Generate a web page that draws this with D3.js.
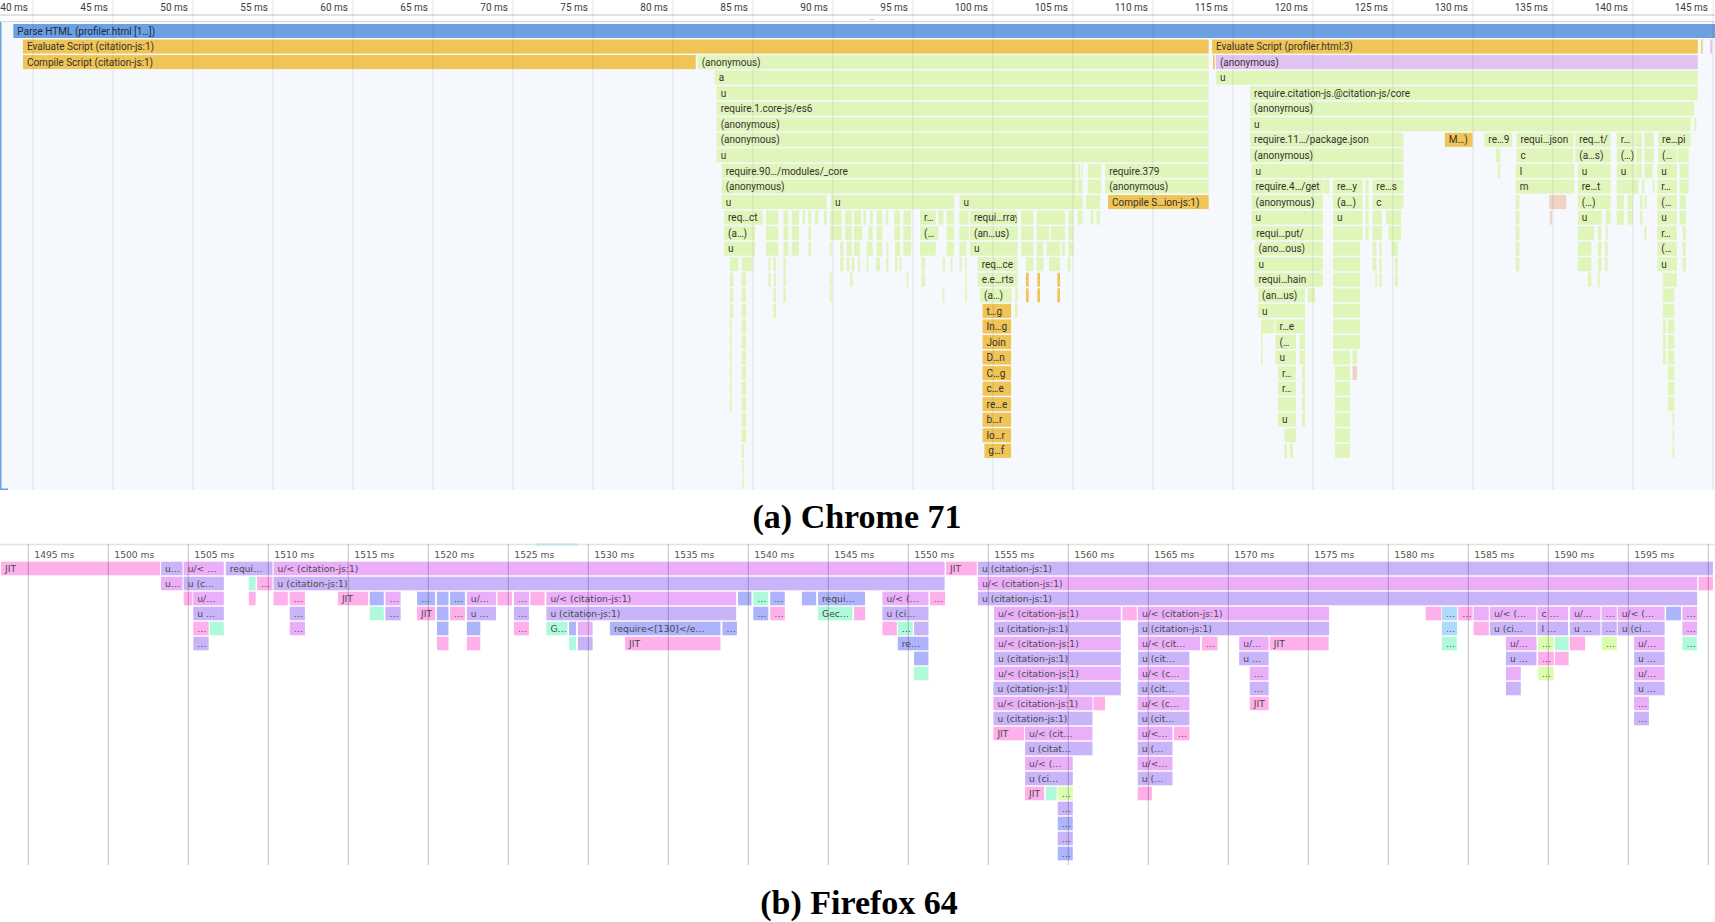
<!DOCTYPE html>
<html><head><meta charset="utf-8">
<script src="https://cdn.jsdelivr.net/npm/d3@7"></script>
<style>html,body{margin:0;padding:0;background:#fff;}svg{display:block;}</style>
</head><body>
<svg id="c" width="1715" height="922"></svg>
<script>
// ---------- DATA ----------
const chromeTickValues = [40,45,50,55,60,65,70,75,80,85,90,95,100,105,110,115,120,125,130,135,140,145];
const firefoxTickValues = [1495,1500,1505,1510,1515,1520,1525,1530,1535,1540,1545,1550,1555,1560,1565,1570,1575,1580,1585,1590,1595,1600];
const firefoxLabelledTicks = [1495,1500,1505,1510,1515,1520,1525,1530,1535,1540,1545,1550,1555,1560,1565,1570,1575,1580,1585,1590,1595];

// [depth, start ms, end ms, label, category]
const chromeTop = [
 [0,38.77,147,"Parse HTML (profiler.html [1…])","P"],
 [1,39.37,113.48,"Evaluate Script (citation-js:1)","O"],
 [1,113.69,144.05,"Evaluate Script (profiler.html:3)","O"],
 [1,144.27,144.35,"","O"],[1,144.83,144.95,"","V"],
 [2,39.37,81.42,"Compile Script (citation-js:1)","O"],
 [2,81.54,113.48,"(anonymous)","G"],
 [2,113.75,113.85,"","O"],
 [2,113.93,144.05,"(anonymous)","V"],
 [3,82.61,113.48,"a","G"],[3,113.93,144.05,"u","G"],
 [4,82.73,113.48,"u","G"],[4,116.07,144.05,"require.citation-js.@citation-js/core","G"],
 [5,82.73,113.48,"require.1.core-js/es6","G"],[5,116.07,143.82,"(anonymous)","G"],
 [6,82.73,113.48,"(anonymous)","G"],[6,116.07,143.60,"u","G"],[6,143.82,143.95,"","G"],
 [7,82.73,113.48,"(anonymous)","G"],[7,116.07,125.65,"require.11…/package.json","G"],
 [7,128.24,129.97,"M…)","O"],[7,130.71,132.45,"re…9","G"],[7,132.72,136.28,"requi…json","G"],
 [7,136.39,138.60,"req…t/","G"],[7,138.98,140.11,"r…","G"],[7,140.16,140.56,"","G"],
 [7,140.71,141.30,"","G"],[7,141.57,143.60,"re…pi","G"],
 [8,82.73,113.48,"u","G"],[8,116.07,125.65,"(anonymous)","G"],[8,131.43,131.70,"","G"],
 [8,132.72,136.28,"c","G"],[8,136.39,138.60,"(a…s)","G"],[8,138.98,140.11,"(…)","G"],
 [8,140.2,140.56,"","G"],[8,140.71,141.3,"","G"],[8,141.57,142.74,"(…","G"],[8,142.8,143.48,"","G"]
];

const chromeLeft = [
 [9,83.04,105.22,"require.90…/modules/_core"],[9,105.3,105.45],[9,105.52,105.6],[9,105.93,106.77],
 [9,107.01,113.48,"require.379"],
 [10,83.04,105.22,"(anonymous)"],[10,105.3,105.6],[10,105.93,106.77],[10,107.01,113.48,"(anonymous)"],
 [11,83.04,89.60,"u"],[11,89.87,97.58,"u"],[11,97.90,105.60,"u"],[11,105.81,106.69],
 [11,107.19,113.48,"Compile S…ion-js:1)","O"],
 [12,83.19,85.60,"req…ct"],[12,85.81,86.58],[12,86.90,87.21],[12,87.42,87.87],[12,88.10,88.25],[12,88.46,88.63],
 [12,88.88,89.08],[12,89.44,89.60],[12,89.81,90.54],[12,90.75,91.17],[12,91.31,91.75],[12,91.90,92.06],
 [12,92.31,92.48],[12,92.73,93.08],[12,93.29,93.46],[12,93.83,94.19],[12,94.40,94.88],[12,95.44,96.42,"r…"],
 [12,96.58,96.90],[12,97.10,97.56],[12,97.90,98.48],[12,98.56,101.54,"requi…rray"],[12,101.75,102.52],
 [12,102.73,104.50],[12,104.71,105.02],[12,105.29,105.60],[12,106.10,106.27],[12,106.48,106.69],
 [13,83.19,85.13,"(a…)"],[13,85.81,86.58],[13,86.90,87.21],[13,87.42,87.87],[13,88.46,88.63],[13,89.81,90.54],
 [13,90.75,91.17],[13,91.31,91.83],[13,92.21,92.48],[13,92.73,93.08],[13,93.83,94.19],[13,94.40,94.88],
 [13,95.44,96.58,"(…"],[13,97.10,97.56],[13,97.90,98.48],[13,98.56,101.54,"(an…us)"],[13,101.75,102.52],
 [13,102.73,103.50],[13,103.60,104.50],[13,104.71,105.02],
 [14,83.19,85.13,"u"],[14,85.81,86.58],[14,86.90,87.21],[14,87.42,87.87],[14,88.46,88.63],[14,89.81,89.92],
 [14,90.44,90.65],[14,90.85,91.17],[14,91.31,91.69],[14,92.10,92.48],[14,92.73,93.08],[14,93.35,93.46],
 [14,93.87,94.19],[14,94.40,94.88],[14,95.44,96.42],[14,97.10,97.56],[14,97.90,98.35],[14,98.56,101.54,"u"],
 [14,101.75,102.52],[14,102.73,103.15],[14,103.35,104.19],[14,104.29,104.50],[14,104.71,105.02],
 [15,83.56,84.08],[15,84.29,84.98],[15,85.96,86.10],[15,86.27,86.44],[15,86.90,87.06],[15,90.44,90.65],
 [15,90.85,91.02],[15,91.17,91.33],[15,91.58,91.69],[15,92.10,92.21],[15,92.69,92.94],[15,93.31,93.46],
 [15,93.87,94.02],[15,94.15,94.29],[15,95.54,95.75],[15,96.85,97.00],[15,97.35,97.48],[15,97.90,98.04],
 [15,98.25,98.35],[15,99.04,101.54,"req…ce"],[15,102.06,102.52],[15,102.73,103.15],[15,103.50,104.19],[15,104.67,104.85],
 [16,83.56,83.77],[16,84.29,84.56],[16,85.96,86.10],[16,86.31,86.44],[16,86.90,87.06],[16,89.81,89.92],
 [16,91.06,91.23],[16,94.60,94.71],[16,95.54,95.75],[16,98.25,98.35],[16,99.04,101.54,"e.e…rts"],
 [16,102.06,102.23,"","O"],[16,102.77,102.94,"","O"],[16,104.02,104.19,"","O"],
 [17,83.56,83.77],[17,84.29,84.56],[17,86.27,86.44],[17,86.90,87.06],[17,89.81,89.92],[17,96.85,96.96],
 [17,98.25,98.35],[17,99.19,101.17,"(a…)"],[17,101.38,101.54],
 [17,102.06,102.23,"","O"],[17,102.77,102.94,"","O"],[17,104.02,104.19,"","O"],
 [18,83.56,83.77],[18,84.29,84.56],[18,86.27,86.44],[18,99.35,101.13,"t…g","O"],[18,101.38,101.54],
 [19,83.56,83.67],[19,84.29,84.56],[19,99.35,101.13,"In…g","O"],
 [20,83.56,83.67],[20,84.29,84.56],[20,99.35,101.13,"Join","O"],
 [21,83.56,83.67],[21,84.29,84.56],[21,99.35,101.13,"D…n","O"],
 [22,83.56,83.67],[22,84.29,84.56],[22,99.35,101.13,"C…g","O"],
 [23,83.56,83.67],[23,84.29,84.56],[23,99.35,101.13,"c…e","O"],
 [24,83.56,83.67],[24,84.29,84.56],[24,99.35,101.13,"re…e","O"],
 [25,84.29,84.56],[25,99.35,101.13,"b…r","O"],
 [26,84.29,84.56],[26,99.35,101.13,"lo…r","O"],
 [27,84.29,84.44],[27,99.46,101.13,"g…f","O"],
 [28,84.32,84.42],[29,84.32,84.42]
];

const chromeRight = [
 [9,116.16,125.65,"u"],[9,131.55,131.70],[9,132.67,136.34,"l"],[9,136.55,138.60,"u"],[9,138.98,140.11,"u"],
 [9,140.16,140.56],[9,140.71,141.23],[9,141.52,142.74,"u"],[9,142.92,143.48],
 [10,116.16,120.62,"require.4…/get"],[10,120.66,121.03],[10,121.25,123.10,"re…y"],[10,123.28,123.48],
 [10,123.71,125.65,"re…s"],[10,132.67,136.34,"m"],[10,136.55,138.60,"re…t"],[10,138.98,140.33],
 [10,140.56,140.71],[10,141.23,141.34],[10,141.52,142.74,"r…"],[10,142.92,143.48],
 [11,116.16,120.62,"(anonymous)"],[11,121.25,123.10,"(a…)"],[11,123.28,123.48],[11,123.71,125.65,"c"],
 [11,132.67,132.90],[11,134.77,135.83,"","S"],[11,136.55,138.60,"(…)"],[11,138.98,139.43],[11,139.66,140.00],
 [11,140.44,140.60],[11,140.71,140.85],[11,141.52,142.74,"(…"],[11,142.92,143.30],
 [12,116.16,120.62,"u"],[12,121.25,123.10,"u"],[12,123.28,123.48],[12,123.71,124.30],[12,124.56,125.51],
 [12,132.67,132.90],[12,134.81,134.93,"","S"],[12,136.55,138.03,"u"],[12,138.30,138.60],[12,138.98,139.43],
 [12,139.66,140.00],[12,140.44,140.60],[12,141.52,142.74,"u"],[12,142.92,143.30],
 [13,116.20,120.62,"requi…put/"],[13,121.25,123.10],[13,123.28,123.48],[13,123.71,124.30],[13,124.72,125.51],
 [13,132.67,132.90],[13,136.55,137.58],[13,137.81,138.03],[13,138.30,138.42],[13,140.71,140.85],
 [13,141.52,142.74,"r…"],[13,143.10,143.30],
 [14,116.34,120.62,"(ano…ous)"],[14,121.25,122.94],[14,123.71,123.96],[14,124.14,124.30],[14,124.90,125.31],
 [14,132.67,132.90],[14,136.55,137.40],[14,137.81,138.03],[14,138.24,138.42],[14,141.52,142.74,"(…"],[14,143.10,143.30],
 [15,116.34,120.62,"u"],[15,121.25,122.94],[15,123.71,123.96],[15,124.14,124.30],[15,125.13,125.31],
 [15,132.67,132.90],[15,136.55,137.40],[15,137.81,138.03],[15,138.24,138.42],[15,141.52,142.74,"u"],[15,143.10,143.30],
 [16,116.34,120.62,"requi…hain"],[16,121.25,122.94],[16,123.89,124.00],[16,124.14,124.30],[16,125.13,125.31],
 [16,137.18,137.40],[16,137.81,137.92],[16,141.86,142.74],
 [17,116.57,119.50,"(an…us)"],[17,119.68,120.13],[17,121.25,122.94],[17,141.86,142.58],
 [18,116.57,119.50,"u"],[18,121.25,122.94],[18,141.86,142.58],
 [19,116.75,117.58],[19,117.65,119.50,"r…e"],[19,121.25,122.94],[19,141.86,142.06],[19,142.18,142.58],
 [20,116.75,116.84],[20,117.65,118.93,"(…"],[20,119.16,119.50],[20,121.25,122.94],[20,141.86,142.06],[20,142.18,142.58],
 [21,116.75,116.84],[21,117.65,118.93,"u"],[21,119.16,119.50],[21,121.25,122.31],[21,122.47,122.76],
 [21,141.86,142.06],[21,142.18,142.58],
 [22,117.81,118.93,"r…"],[22,119.32,119.50],[22,121.37,122.31],[22,122.47,122.76,"","S"],[22,142.18,142.58],
 [23,117.81,118.93,"r…"],[23,119.32,119.50],[23,121.37,122.31],[23,142.18,142.58],
 [24,117.81,118.93],[24,119.32,119.50],[24,121.37,122.31],[24,142.18,142.58],
 [25,117.81,118.93,"u"],[25,119.32,119.50],[25,121.37,122.31],[25,142.47,142.58],
 [26,118.21,118.93],[26,121.37,122.31],[26,142.47,142.58],
 [27,118.21,118.37],[27,118.55,118.75],[27,121.37,122.31],[27,142.47,142.58]
];

const firefoxUpper = [
 [0,1493.30,1503.23,"JIT","J"],[0,1503.30,1504.64,"u…","L"],[0,1504.71,1507.22,"u/< …","M"],
 [0,1507.34,1510.26,"requi…","L"],[0,1510.33,1552.27,"u/< (citation-js:1)","M"],[0,1552.36,1554.28,"JIT","J"],
 [0,1554.35,1600.29,"u (citation-js:1)","L"],
 [1,1503.30,1504.64,"u…","M"],[1,1504.71,1507.22,"u (c…","L"],[1,1508.78,1509.21,"","T"],[1,1509.30,1510.26,"…","J"],
 [1,1510.33,1552.27,"u (citation-js:1)","L"],[1,1554.35,1599.30,"u/< (citation-js:1)","M"],[1,1599.39,1600.29,"","J"],
 [2,1504.71,1505.26,"","J"],[2,1505.31,1507.22,"u/…","M"],[2,1508.78,1509.21,"","J"],[2,1510.33,1511.22,"","J"],
 [2,1511.34,1512.29,"…","J"],[2,1514.35,1516.24,"JIT","J"],[2,1516.34,1517.22,"","B"],[2,1517.32,1518.27,"…","M"],
 [2,1519.30,1520.43,"…","B"],[2,1520.54,1521.26,"","B"],[2,1521.36,1522.29,"…","B"],[2,1522.41,1524.23,"u/…","M"],
 [2,1524.32,1525.23,"","J"],[2,1525.35,1526.29,"…","M"],[2,1526.38,1527.27,"","J"],
 [2,1527.38,1539.24,"u/< (citation-js:1)","M"],[2,1539.36,1540.20,"","B"],[2,1540.31,1541.25,"…","T"],
 [2,1541.37,1542.28,"…","B"],[2,1543.35,1544.24,"","B"],[2,1544.36,1547.30,"requi…","B"],
 [2,1548.38,1551.26,"u/< (…","M"],[2,1551.36,1552.30,"…","J"],[2,1554.35,1599.30,"u (citation-js:1)","L"],
 [3,1505.31,1507.22,"u …","L"],[3,1511.34,1512.29,"…","L"],[3,1516.34,1517.22,"","T"],[3,1517.32,1518.27,"…","L"],
 [3,1519.30,1520.43,"JIT","J"],[3,1520.54,1521.26,"","B"],[3,1521.36,1522.29,"…","J"],[3,1522.41,1524.23,"u …","L"],
 [3,1525.35,1526.29,"…","L"],[3,1527.38,1539.24,"u (citation-js:1)","L"],[3,1540.31,1541.25,"…","B"],
 [3,1541.37,1542.28,"…","J"],[3,1544.36,1546.51,"Gec…","T"],[3,1546.61,1547.30,"","J"],[3,1548.38,1551.26,"u (ci…","L"],
 [3,1555.36,1563.28,"u/< (citation-js:1)","M"],[3,1563.38,1564.28,"","J"],[3,1564.35,1576.30,"u/< (citation-js:1)","M"],
 [3,1582.34,1583.31,"","J"],[3,1583.35,1584.30,"…","C"],[3,1584.37,1585.27,"…","J"],[3,1585.33,1586.28,"","M"],
 [3,1586.35,1589.25,"u/< (…","M"],[3,1589.32,1591.24,"c …","M"],[3,1591.35,1593.26,"u/…","M"],[3,1593.33,1594.28,"…","M"],
 [3,1594.34,1597.27,"u/< (…","M"],[3,1597.36,1598.29,"","B"],[3,1598.38,1599.30,"…","M"],
 [4,1505.31,1506.27,"…","J"],[4,1506.34,1507.22,"","T"],[4,1511.34,1512.29,"…","M"],[4,1520.54,1521.26,"","B"],
 [4,1522.41,1523.25,"","B"],[4,1525.35,1526.29,"…","J"],[4,1527.38,1528.70,"G…","T"],[4,1528.80,1529.23,"","B"],
 [4,1529.35,1530.27,"","M"],[4,1531.35,1538.26,"require<[130]</e…","B"],[4,1538.38,1539.29,"…","B"],
 [4,1548.38,1549.28,"","J"],[4,1549.34,1550.28,"…","T"],[4,1550.36,1551.26,"","L"],
 [4,1555.36,1563.28,"u (citation-js:1)","L"],[4,1564.35,1576.30,"u (citation-js:1)","L"],[4,1583.35,1584.30,"…","C"],
 [4,1585.33,1586.28,"","J"],[4,1586.35,1589.25,"u (ci…","L"],[4,1589.32,1591.24,"l …","L"],[4,1591.35,1593.26,"u …","L"],
 [4,1593.33,1594.28,"…","L"],[4,1594.34,1597.27,"u (ci…","L"],[4,1598.38,1599.30,"…","M"]
];

const firefoxLower = [
 [5,1505.31,1506.27,"…","L"],[5,1520.54,1521.26,"","J"],[5,1522.41,1523.25,"","J"],[5,1528.80,1529.23,"","T"],
 [5,1529.35,1530.27,"","L"],[5,1532.30,1538.26,"JIT","J"],[5,1549.34,1551.26,"re…","B"],
 [5,1555.36,1563.28,"u/< (citation-js:1)","M"],[5,1564.36,1568.23,"u/< (cit…","M"],[5,1568.35,1569.33,"…","J"],
 [5,1570.68,1572.52,"u/…","M"],[5,1572.59,1576.27,"JIT","J"],[5,1583.35,1584.28,"…","T"],[5,1587.35,1589.26,"u/…","M"],
 [5,1589.36,1590.34,"…","Y"],[5,1590.41,1591.27,"","T"],[5,1591.34,1592.30,"","J"],[5,1593.35,1594.28,"…","Y"],
 [5,1595.36,1597.27,"u/…","M"],[5,1598.38,1599.28,"…","T"],
 [6,1550.36,1551.26,"","B"],[6,1555.36,1563.28,"u (citation-js:1)","L"],[6,1564.36,1567.57,"u (cit…","L"],
 [6,1570.68,1572.52,"u …","L"],[6,1587.35,1589.26,"u …","L"],[6,1589.36,1590.34,"…","J"],[6,1590.41,1591.27,"","J"],
 [6,1595.36,1597.27,"u …","L"],
 [7,1550.36,1551.26,"","T"],[7,1555.36,1563.28,"u/< (citation-js:1)","M"],[7,1564.36,1567.57,"u/< (c…","M"],
 [7,1571.34,1572.52,"…","M"],[7,1587.35,1588.28,"","M"],[7,1589.36,1590.34,"…","Y"],[7,1595.36,1597.27,"u/…","M"],
 [8,1555.32,1563.28,"u (citation-js:1)","L"],[8,1564.34,1567.57,"u (cit…","L"],[8,1571.34,1572.52,"…","L"],
 [8,1587.35,1588.28,"","L"],[8,1595.36,1597.27,"u …","L"],
 [9,1555.32,1561.51,"u/< (citation-js:1)","M"],[9,1561.57,1562.30,"","J"],[9,1564.34,1567.57,"u/< (c…","M"],
 [9,1571.34,1572.52,"JIT","J"],[9,1595.36,1596.29,"…","M"],
 [10,1555.32,1561.51,"u (citation-js:1)","L"],[10,1564.34,1567.57,"u (cit…","L"],[10,1595.36,1596.29,"…","L"],
 [11,1555.32,1557.24,"JIT","J"],[11,1557.30,1561.51,"u/< (cit…","M"],[11,1564.34,1566.51,"u/<…","M"],[11,1566.61,1567.57,"…","J"],
 [12,1557.30,1561.51,"u (citat…","L"],[12,1564.34,1566.51,"u (…","L"],
 [13,1557.30,1560.28,"u/< (…","M"],[13,1564.34,1566.51,"u/<…","M"],
 [14,1557.30,1560.28,"u (ci…","L"],[14,1564.34,1566.51,"u (…","L"],
 [15,1557.30,1558.49,"JIT","J"],[15,1558.59,1559.28,"","T"],[15,1559.34,1560.28,"…","Y"],[15,1564.34,1565.22,"","J"],
 [16,1559.34,1560.28,"…","L"],[17,1559.34,1560.28,"…","B"],[18,1559.34,1560.28,"…","L"],[19,1559.34,1560.28,"…","B"]
];

const captions = ["(a) Chrome 71", "(b) Firefox 64"];

// ---------- STYLE ----------
const chromeColors = {P:"#6ca0e1", O:"#f0c455", G:"#e0f5ba", V:"#e1c3f0", S:"#efd3c3"};
const ffColors = {J:"#feb0ea", M:"#ebaffa", L:"#c9b4fa", B:"#adb4fb", T:"#b0fadc", C:"#b0dafc", Y:"#dcfcb0"};

const svg = d3.select("#c");
const W = 1715;

// ---------- CHROME PANEL ----------
const xc = d3.scaleLinear().domain([40,145]).range([33,1713]);
const yc = d3.scaleLinear().domain([0,1]).range([24,39.55]);
const chromeH = 14;

const gC = svg.append("g");
gC.append("rect").attr("x",0).attr("y",22).attr("width",W).attr("height",468).attr("fill","#f5f8fc");
gC.append("line").attr("x1",0).attr("x2",W).attr("y1",15).attr("y2",15).attr("stroke","#c4c4c4").attr("stroke-width",1.2);
gC.append("line").attr("x1",0).attr("x2",W).attr("y1",21.5).attr("y2",21.5).attr("stroke","#d6d6d6").attr("stroke-width",1);
gC.append("text").attr("x",872).attr("y",19.5).attr("text-anchor","middle").attr("font-family","Roboto").attr("font-size",8).attr("fill","#888").text("…");

const chromeAll = chromeTop.concat(chromeLeft.map(d=>[d[0],d[1],d[2],d[3]||"",d[4]||"G"]),
                                   chromeRight.map(d=>[d[0],d[1],d[2],d[3]||"",d[4]||"G"]));
const defs = svg.append("defs");
const cBars = gC.append("g");
chromeAll.forEach((d,i)=>{
  const x0 = xc(d[1]), x1 = Math.min(xc(d[2]), W);
  const w = Math.max(x1-x0, 0.8);
  const y = yc(d[0]);
  cBars.append("rect").attr("x",x0).attr("y",y).attr("width",w).attr("height",chromeH)
    .attr("fill",chromeColors[d[4]]);
  if (d[3]) {
    const id = "cc"+i;
    defs.append("clipPath").attr("id",id).append("rect").attr("x",x0).attr("y",y).attr("width",w-1).attr("height",chromeH);
    cBars.append("text").attr("clip-path",`url(#${id})`).attr("x",x0+4).attr("y",y+10.6)
      .attr("font-family","Roboto").attr("font-size",10).attr("fill",d[4]==="P"?"#1c2a40":"#333").text(d[3]);
  }
});
// grid lines over bars
const cGrid = gC.append("g");
chromeTickValues.forEach(t=>{
  cGrid.append("line").attr("x1",xc(t)).attr("x2",xc(t)).attr("y1",0).attr("y2",490)
    .attr("stroke","rgba(0,0,0,0.09)").attr("stroke-width",1);
  gC.append("text").attr("x",xc(t)-5).attr("y",10.5).attr("text-anchor","end")
    .attr("font-family","Roboto").attr("font-size",10).attr("fill","#3c3c3c").text(t+" ms");
});
gC.append("rect").attr("x",0).attr("y",22).attr("width",1.5).attr("height",468).attr("fill","#6c9fe0");
gC.append("rect").attr("x",0).attr("y",488.5).attr("width",8).attr("height",1.5).attr("fill","#6c9fe0");

// ---------- FIREFOX PANEL ----------
const xf = d3.scaleLinear().domain([1495,1600]).range([28.3,1708.3]);
const yf = d3.scaleLinear().domain([0,1]).range([561.7,576.7]);
const ffH = 13.6;
const gF = svg.append("g");
gF.append("line").attr("x1",0).attr("x2",W).attr("y1",544.5).attr("y2",544.5).attr("stroke","#dcebd6").attr("stroke-width",1.5);
gF.append("rect").attr("x",536).attr("y",543.5).attr("width",42).attr("height",2).attr("fill","#bfe3ee");

const ffAll = firefoxUpper.concat(firefoxLower);
const fBars = gF.append("g");
ffAll.forEach((d,i)=>{
  const x0 = Math.max(xf(d[1]),0), x1 = Math.min(xf(d[2]), W);
  const w = Math.max(x1-x0, 0.8);
  const y = yf(d[0]);
  fBars.append("rect").attr("x",x0).attr("y",y).attr("width",w).attr("height",ffH).attr("fill",ffColors[d[4]]);
  if (d[3]) {
    const id = "fc"+i;
    defs.append("clipPath").attr("id",id).append("rect").attr("x",x0).attr("y",y).attr("width",w).attr("height",ffH);
    fBars.append("text").attr("clip-path",`url(#${id})`).attr("x",x0+4).attr("y",y+10.2)
      .attr("font-family","DejaVu Sans").attr("font-size",9.2).attr("fill","#4a4a4a").text(d[3]);
  }
});
firefoxTickValues.forEach(t=>{
  gF.append("line").attr("x1",xf(t)).attr("x2",xf(t)).attr("y1",544).attr("y2",865)
    .attr("stroke","rgba(0,0,0,0.2)").attr("stroke-width",1.2);
});
firefoxLabelledTicks.forEach(t=>{
  gF.append("text").attr("x",xf(t)+6).attr("y",557.5)
    .attr("font-family","DejaVu Sans").attr("font-size",9.2).attr("fill","#555").text(t+" ms");
});

// ---------- CAPTIONS ----------
svg.append("text").attr("x",857).attr("y",527.5).attr("text-anchor","middle")
  .attr("font-family","Liberation Serif, Times New Roman, serif").attr("font-weight","bold").attr("font-size",34)
  .attr("fill","#000").text(captions[0]);
svg.append("text").attr("x",859).attr("y",914).attr("text-anchor","middle")
  .attr("font-family","Liberation Serif, Times New Roman, serif").attr("font-weight","bold").attr("font-size",34)
  .attr("fill","#000").text(captions[1]);
</script>
</body></html>
